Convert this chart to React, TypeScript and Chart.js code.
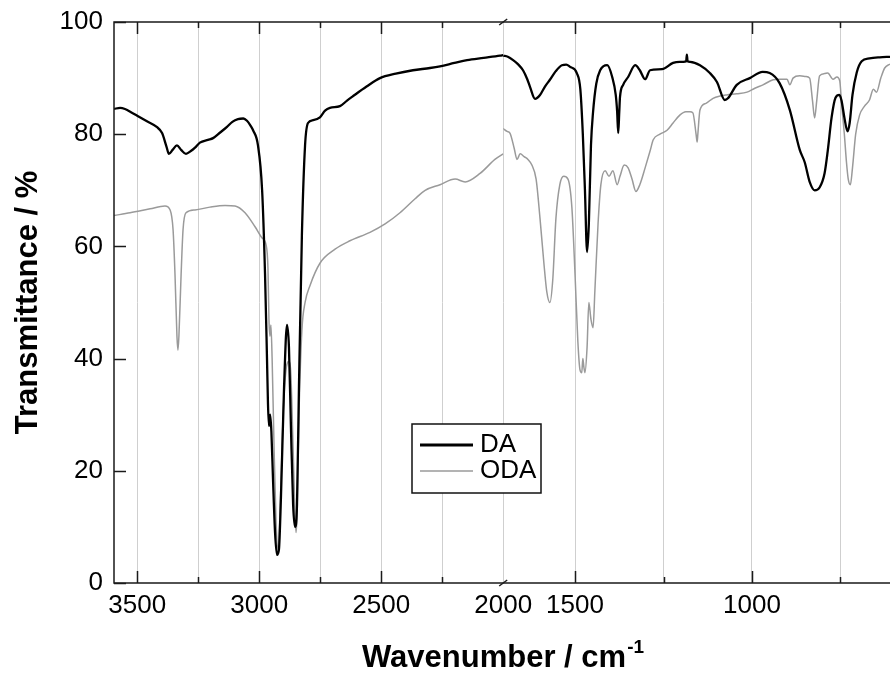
import React, { useEffect, useRef } from 'react';
import { Chart, registerables } from 'chart.js';

Chart.register(...registerables);

// ---------- data (wavenumber cm^-1, transmittance %) ----------
const seriesNames = ['DA', 'ODA'];

// high-wavenumber segment (3595 – 2000 cm-1)
const daHigh: [number, number][] = [
  [3595, 84.5], [3570, 84.7], [3550, 84.5], [3520, 83.8], [3500, 83.3], [3460, 82.3],
  [3420, 81.3], [3398, 80.2], [3380, 77.8], [3370, 76.5], [3355, 77.2], [3337, 78.0],
  [3320, 77.2], [3300, 76.5], [3280, 77.0], [3263, 77.6], [3243, 78.5], [3210, 79.0],
  [3189, 79.3], [3160, 80.3], [3132, 81.3], [3110, 82.2], [3087, 82.7], [3065, 82.8],
  [3050, 82.4], [3035, 81.5], [3025, 80.7], [3005, 78], [2988, 70], [2976, 55],
  [2968, 40], [2964, 32], [2960, 28], [2955, 30], [2950, 27], [2943, 18], [2935, 9],
  [2927, 5], [2919, 6], [2911, 15], [2898, 35], [2886, 46], [2878, 42], [2870, 28],
  [2861, 14], [2853, 10], [2845, 14], [2837, 35], [2825, 62], [2812, 78], [2800, 82],
  [2779, 82.5], [2751, 83], [2730, 84.2], [2710, 84.7], [2669, 85], [2640, 86],
  [2615, 86.8], [2560, 88.5], [2505, 90], [2440, 90.8], [2370, 91.4], [2300, 91.8],
  [2259, 92.1], [2200, 92.7], [2148, 93.2], [2080, 93.6], [2013, 94], [2000, 94.1],
];

const odaHigh: [number, number][] = [
  [3595, 65.5], [3529, 66], [3447, 66.7], [3386, 67.2], [3365, 66.5], [3353, 63],
  [3345, 55], [3337, 44], [3333, 41.5], [3329, 44], [3320, 55], [3312, 63], [3300, 66],
  [3263, 66.5], [3202, 67], [3140, 67.3], [3099, 67.2], [3058, 66], [3017, 63.5],
  [2988, 61.5], [2972, 60.3], [2964, 56], [2960, 47], [2956, 44], [2952, 46],
  [2947, 40], [2939, 24], [2931, 11], [2923, 6], [2915, 12], [2902, 30], [2890, 38],
  [2878, 39.5], [2870, 37], [2861, 24], [2853, 12], [2849, 9], [2845, 12], [2837, 30],
  [2825, 45], [2812, 50], [2792, 53], [2751, 57], [2689, 59.5], [2628, 61],
  [2546, 62.5], [2484, 64], [2423, 66], [2361, 68.5], [2320, 70], [2259, 71],
  [2197, 72], [2156, 71.5], [2095, 73], [2034, 75.5], [2000, 76.5],
];

// low-wavenumber segment (1703 – 610 cm-1)
const daLow: [number, number][] = [
  [1703, 94], [1690, 93.8], [1675, 93.2], [1660, 92.4], [1647, 91.4], [1635, 89.8],
  [1627, 88.4], [1613, 86.3], [1599, 87], [1585, 88.5], [1571, 89.7], [1555, 91.2],
  [1537, 92.3], [1525, 92.4], [1514, 92], [1495, 90.9], [1485, 88], [1478, 80],
  [1472, 70], [1466, 59], [1461, 64], [1455, 78], [1449, 84], [1440, 89], [1429, 91.4],
  [1409, 92.3], [1395, 90.2], [1385, 87], [1381, 84], [1378, 80.2], [1375, 84],
  [1373, 86.6], [1364, 88.8], [1350, 90.2], [1330, 92.3], [1317, 91.4], [1302, 89.8],
  [1288, 91.4], [1254, 91.6], [1223, 92.7], [1204, 92.9], [1186, 93], [1184, 94.2],
  [1182, 93], [1175, 92.9], [1147, 92.3], [1119, 90.9], [1099, 89.3], [1077, 86.1],
  [1068, 86.4], [1043, 88.8], [1006, 90], [970, 91.1], [950, 90.9], [922, 89.1],
  [893, 84.3], [865, 77.2], [851, 75], [837, 71.5], [823, 70], [809, 70.5], [795, 73],
  [786, 77], [775, 83], [764, 86.5], [753, 87], [747, 86], [739, 83], [730, 80.5],
  [724, 82], [716, 87], [704, 91], [690, 93], [668, 93.5], [639, 93.7], [610, 93.8],
];

const odaLow: [number, number][] = [
  [1703, 81], [1692, 80.5], [1684, 80.2], [1672, 77.5], [1664, 75.5], [1655, 76.5],
  [1644, 76], [1633, 75.5], [1622, 74.5], [1610, 72], [1599, 65], [1588, 57],
  [1580, 52], [1571, 50], [1563, 54], [1554, 65], [1543, 71], [1532, 72.5], [1520, 72],
  [1509, 67], [1500, 55], [1492, 43], [1486, 38], [1481, 37.5], [1478, 40],
  [1475, 38.5], [1472, 37.5], [1466, 42], [1461, 50], [1455, 47], [1449, 45.5],
  [1444, 52], [1435, 64], [1427, 71], [1415, 73.5], [1404, 72.5], [1393, 73.5],
  [1381, 71], [1373, 72.5], [1361, 74.5], [1350, 74], [1339, 72], [1328, 69.8],
  [1317, 71], [1302, 74], [1288, 77], [1279, 79], [1260, 80], [1240, 80.7], [1223, 82],
  [1204, 83.4], [1187, 84], [1175, 84], [1167, 83.8], [1158, 80], [1155, 78.6],
  [1153, 80], [1147, 84.3], [1130, 85.5], [1110, 86.4], [1090, 86.8], [1071, 87],
  [1043, 87.2], [1014, 87.5], [992, 88.2], [969, 88.8], [940, 89.7], [921, 89.8],
  [901, 89.8], [893, 88.8], [884, 90], [865, 90.4], [848, 90.3], [837, 90], [829, 86],
  [823, 82.9], [817, 86], [809, 90.4], [795, 90.8], [786, 90.9], [771, 89.8],
  [760, 90.2], [752, 89.5], [747, 85.6], [739, 80], [733, 75], [728, 72], [722, 71],
  [716, 74], [707, 80], [696, 83.4], [682, 85], [668, 86.1], [657, 88], [648, 87.5],
  [636, 90], [625, 91.8], [610, 92.5],
];

// axis ranges and ticks
const highRange = [2000, 3595];
const lowRange = [610, 1703];
const highTicks = [3500, 3250, 3000, 2750, 2500, 2250, 2000];
const lowTicks = [1500, 1250, 1000, 750];
const labeledTicks = [3500, 3000, 2500, 2000, 1500, 1000];
const yTicks = [0, 20, 40, 60, 80, 100];

const FONT = '"Liberation Sans", Arial, Helvetica, sans-serif';
const DA_COLOR = '#000000';
const ODA_COLOR = '#9a9a9a';

const toPoints = (arr: [number, number][]) => arr.map(([x, y]) => ({ x, y }));

const decorPlugin = {
  id: 'decor',
  afterDraw(chart: any) {
    const { ctx, chartArea, scales } = chart;
    const { left, right, top, bottom } = chartArea;
    ctx.save();
    ctx.strokeStyle = '#1a1a1a';
    ctx.lineWidth = 1.5;
    // frame
    ctx.beginPath();
    ctx.moveTo(right + 2, top);
    ctx.lineTo(left, top);
    ctx.lineTo(left, bottom);
    ctx.lineTo(right + 2, bottom);
    ctx.stroke();
    // x tick marks (inward)
    const drawXTicks = (scale: any, ticks: number[]) => {
      ticks.forEach((v) => {
        const px = Math.round(scale.getPixelForValue(v)) + 0.5;
        const len = labeledTicks.includes(v) ? 12 : 6;
        ctx.beginPath();
        ctx.moveTo(px, bottom);
        ctx.lineTo(px, bottom - len);
        ctx.moveTo(px, top);
        ctx.lineTo(px, top + len);
        ctx.stroke();
      });
    };
    drawXTicks(scales.xHigh, highTicks.filter((v) => v !== 2000));
    drawXTicks(scales.xLow, lowTicks);
    // y tick marks
    yTicks.forEach((v) => {
      const py = Math.round(scales.y.getPixelForValue(v)) + 0.5;
      ctx.beginPath();
      ctx.moveTo(left, py);
      ctx.lineTo(left + 12, py);
      ctx.stroke();
    });
    // axis break marks
    const bx = scales.xHigh.getPixelForValue(2000);
    [bottom, top].forEach((yy) => {
      ctx.beginPath();
      ctx.moveTo(bx - 4, yy + 3);
      ctx.lineTo(bx + 4, yy - 3);
      ctx.stroke();
    });
    // legend
    const lx = left + 298;
    const ly = top + 402;
    ctx.fillStyle = '#ffffff';
    ctx.fillRect(lx, ly, 129, 69);
    ctx.strokeStyle = '#111';
    ctx.lineWidth = 1.5;
    ctx.strokeRect(lx, ly, 129, 69);
    const entries = [
      { name: seriesNames[0], color: DA_COLOR, width: 3, y: ly + 21 },
      { name: seriesNames[1], color: ODA_COLOR, width: 1.5, y: ly + 47 },
    ];
    ctx.font = `26px ${FONT}`;
    ctx.textBaseline = 'middle';
    ctx.textAlign = 'left';
    entries.forEach((e) => {
      ctx.strokeStyle = e.color;
      ctx.lineWidth = e.width;
      ctx.beginPath();
      ctx.moveTo(lx + 8, e.y);
      ctx.lineTo(lx + 61, e.y);
      ctx.stroke();
      ctx.fillStyle = '#000';
      ctx.fillText(e.name, lx + 68, e.y);
    });
    // x axis title with superscript
    const main = 'Wavenumber / cm';
    const sup = '-1';
    ctx.font = `bold 31px ${FONT}`;
    const w1 = ctx.measureText(main).width;
    ctx.font = `bold 19px ${FONT}`;
    const w2 = ctx.measureText(sup).width;
    const cx = (left + right) / 2 + 1;
    const sx = cx - (w1 + w2 + 1) / 2;
    ctx.textBaseline = 'alphabetic';
    ctx.fillStyle = '#000';
    ctx.font = `bold 31px ${FONT}`;
    ctx.fillText(main, sx, 667);
    ctx.font = `bold 19px ${FONT}`;
    ctx.fillText(sup, sx + w1 + 1, 653);
    ctx.restore();
  },
};

const xAxisBase = (ticks: number[], range: number[], weight: number) => ({
  type: 'linear' as const,
  position: 'bottom' as const,
  stack: 'wn',
  stackWeight: weight,
  min: range[0],
  max: range[1],
  reverse: true,
  afterBuildTicks: (s: any) => {
    s.ticks = ticks.map((v) => ({ value: v }));
  },
  afterFit: (s: any) => {
    s.height = 90;
    s.paddingLeft = 0;
    s.paddingRight = 0;
  },
  ticks: {
    autoSkip: false,
    maxRotation: 0,
    padding: 7,
    color: '#000',
    font: { family: FONT, size: 26 },
    callback: (v: any) => (labeledTicks.includes(Number(v)) ? String(v) : ''),
  },
  grid: { color: '#cfcfcf', lineWidth: 1, drawTicks: false },
  border: { display: false },
});

export default function App() {
  const ref = useRef<HTMLCanvasElement | null>(null);
  useEffect(() => {
    if (!ref.current) return;
    const chart = new Chart(ref.current, {
      type: 'line',
      data: {
        datasets: [
          { label: seriesNames[0], data: toPoints(daHigh), xAxisID: 'xHigh', yAxisID: 'y', borderColor: DA_COLOR, borderWidth: 2.3, pointRadius: 0, cubicInterpolationMode: 'monotone' },
          { label: seriesNames[0], data: toPoints(daLow), xAxisID: 'xLow', yAxisID: 'y', borderColor: DA_COLOR, borderWidth: 2.3, pointRadius: 0, cubicInterpolationMode: 'monotone' },
          { label: seriesNames[1], data: toPoints(odaHigh), xAxisID: 'xHigh', yAxisID: 'y', borderColor: ODA_COLOR, borderWidth: 1.5, pointRadius: 0, cubicInterpolationMode: 'monotone' },
          { label: seriesNames[1], data: toPoints(odaLow), xAxisID: 'xLow', yAxisID: 'y', borderColor: ODA_COLOR, borderWidth: 1.5, pointRadius: 0, cubicInterpolationMode: 'monotone' },
        ] as any,
      },
      options: {
        animation: false,
        responsive: true,
        maintainAspectRatio: false,
        parsing: false as any,
        normalized: true,
        layout: { padding: { top: 22, right: 0, bottom: 0, left: 0 } },
        plugins: { legend: { display: false }, tooltip: { enabled: false } },
        scales: {
          xHigh: xAxisBase(highTicks, highRange, 389.2),
          xLow: xAxisBase(lowTicks, lowRange, 386.8),
          y: {
            type: 'linear',
            position: 'left',
            min: 0,
            max: 100,
            afterBuildTicks: (s: any) => {
              s.ticks = yTicks.map((v) => ({ value: v }));
            },
            afterFit: (s: any) => {
              s.width = 114;
              s.paddingTop = 0;
              s.paddingBottom = 0;
            },
            ticks: { padding: 11, color: '#000', font: { family: FONT, size: 26 } },
            grid: { display: false, drawTicks: false },
            border: { display: false },
            title: {
              display: true,
              text: 'Transmittance / %',
              color: '#000',
              font: { family: FONT, size: 31, weight: 'bold' },
              padding: { top: 10, bottom: 0 },
            },
          },
        } as any,
      },
      plugins: [decorPlugin],
    });
    return () => chart.destroy();
  }, []);
  return (
    <div style={{ position: 'absolute', left: 0, top: 0, width: 890, height: 673, background: '#fff' }}>
      <canvas ref={ref} />
    </div>
  );
}
